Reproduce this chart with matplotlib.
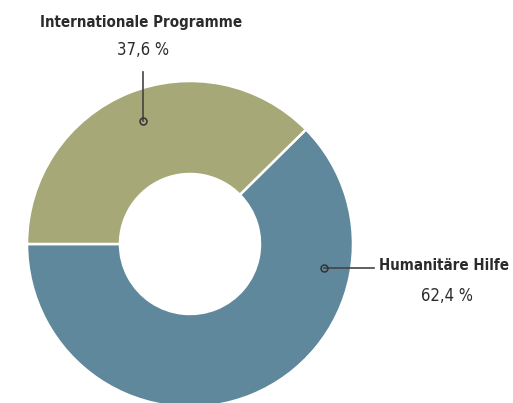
import matplotlib
matplotlib.use("Agg")
import matplotlib.pyplot as plt

labels = ["Humanitäre Hilfe", "Internationale Programme"]
values = [62.4, 37.6]
colors = ["#5f889c", "#a7a877"]

W, H = 513, 403
fig = plt.figure(figsize=(W / 100, H / 100), dpi=100)
ax = fig.add_axes([0, 0, 1, 1])

cx, cy = 190, H - 244
ax.pie(values, colors=colors, startangle=180, counterclock=True,
       center=(cx, cy), radius=163, frame=True,
       wedgeprops=dict(width=93, edgecolor="white", linewidth=1.8))
ax.set_xlim(0, W)
ax.set_ylim(0, H)
ax.set_aspect("equal")
ax.axis("off")

txt = "#2b2b2b"

def pct(v):
    return f"{v:.1f}".replace(".", ",") + " %"

kw = dict(family="DejaVu Sans", fontstretch="condensed", color=txt,
          ha="center", va="center")

# Internationale Programme
ax.plot([143, 143], [H - 72, H - 121], color="#444444", lw=1.2)
ax.plot(143, H - 121, "o", ms=5, mfc="none", mec="#333333", mew=1.1)
ax.text(141, H - 23, labels[1], fontsize=10.8, fontweight="bold", **kw)
ax.text(143, H - 50, pct(values[1]), fontsize=12, **kw)

# Humanitäre Hilfe
ax.plot([324, 374], [H - 268, H - 268], color="#444444", lw=1.2)
ax.plot(324, H - 268, "o", ms=5, mfc="none", mec="#333333", mew=1.1)
ax.text(444, H - 266, labels[0], fontsize=10.8, fontweight="bold", **kw)
ax.text(447, H - 296, pct(values[0]), fontsize=12, **kw)

fig.savefig("out.png", dpi=100)
